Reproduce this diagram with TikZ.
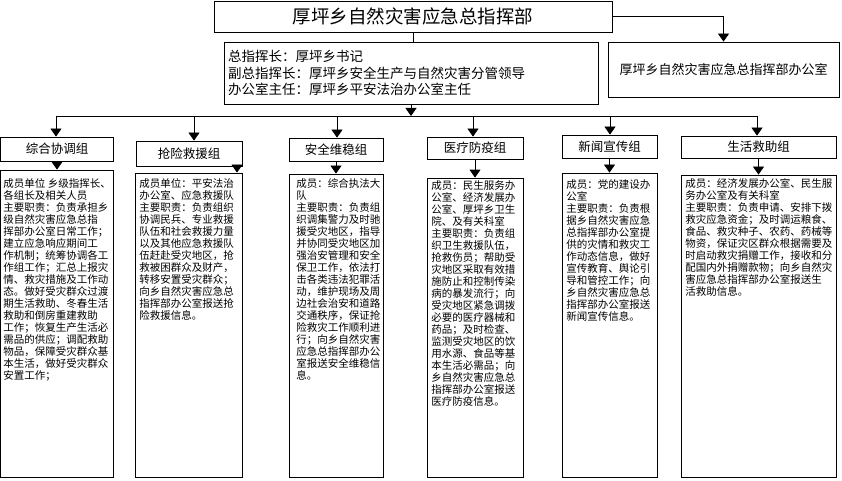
\documentclass[tikz,border=0pt]{standalone}
\usepackage{fontspec}
\setmainfont{Noto Sans CJK SC}
\usetikzlibrary{arrows.meta,positioning}

\begin{document}
\begin{tikzpicture}[x=1pt, y=-1pt, line width=0.8pt,
  box/.style={draw, rectangle, inner sep=0pt},
  grouptitle/.style={box, font=\fontsize{12.5}{14}\selectfont},
  detailtext/.style={anchor=north west, align=left, inner sep=0pt, font=\fontsize{10.5}{12}\selectfont},
  arr/.style={-{Triangle[width=11pt,length=8pt]}}]
\useasboundingbox (0,0) rectangle (842,481);
% Headquarters and leaders
\node[box, minimum width=398pt, minimum height=31pt, font=\fontsize{18.5}{20}\selectfont] (hq) at (413,16.5) {厚坪乡自然灾害应急总指挥部};
\node[box, text width=366pt, inner xsep=4pt, minimum height=62pt, align=left, font=\fontsize{13.5}{16.5}\selectfont] (cmd) at (411,73)
  {总指挥长：厚坪乡书记\\副总指挥长：厚坪乡安全生产与自然灾害分管领导\\办公室主任：厚坪乡平安法治办公室主任};
\node[box, minimum width=231pt, minimum height=55pt, font=\fontsize{13}{15}\selectfont] (office) at (723.5,69.5) {厚坪乡自然灾害应急总指挥部办公室};
\draw (hq.south) -- (hq.south |- cmd.north);
\draw[arr] (hq.east) -| (office.north);
% Working groups
\node[grouptitle, minimum width=113pt, minimum height=24pt] (g1) at (57,149) {综合协调组};
\node[grouptitle, minimum width=106pt, minimum height=25pt] (g2) at (189,153.5) {抢险救援组};
\node[grouptitle, minimum width=94pt, minimum height=23pt] (g3) at (336,149.5) {安全维稳组};
\node[grouptitle, minimum width=96pt, minimum height=22pt] (g4) at (475,148) {医疗防疫组};
\node[grouptitle, minimum width=95pt, minimum height=23pt] (g5) at (609.5,146.5) {新闻宣传组};
\node[grouptitle, minimum width=155pt, minimum height=22pt] (g6) at (758.5,147) {生活救助组};
% Bus line
\coordinate (b1) at (56,116);
\coordinate (b2) at (194,116);
\coordinate (b3) at (337,116);
\coordinate (b4) at (473,116);
\coordinate (b5) at (610,116);
\coordinate (b6) at (757,116);
\draw (b1) -- (b6);
\draw[arr] (cmd.south) -- (cmd.south |- b1);
\foreach \i in {1,...,6} {
  \draw[arr] (b\i) -- (b\i |- g\i.north);
}
% Duty boxes
\node[box, minimum width=112.5pt, minimum height=307pt] (d1) at (56.75,323.5) {};
\node[box, minimum width=107pt, minimum height=304pt] (d2) at (188.5,325) {};
\node[box, minimum width=94pt, minimum height=303pt] (d3) at (336,325.5) {};
\node[box, minimum width=96pt, minimum height=299pt] (d4) at (475,327.5) {};
\node[box, minimum width=95pt, minimum height=304pt] (d5) at (609.5,325) {};
\node[box, minimum width=155pt, minimum height=302pt] (d6) at (758.5,326) {};
\foreach \i in {1,3,4,5,6} {
  \draw[arr] (g\i.south) -- (g\i.south |- d\i.north);
}
\draw[arr] ([xshift=48pt]g2.south) -- ([xshift=48pt]g2.south |- d2.north);
% Duty texts
\node[detailtext] (t1) at (3,178) {成员单位 乡级指挥长、\\各组长及相关人员\\主要职责：负责承担乡\\级自然灾害应急总指\\挥部办公室日常工作；\\建立应急响应期间工\\作机制；统筹协调各工\\作组工作；汇总上报灾\\情、救灾措施及工作动\\态。做好受灾群众过渡\\期生活救助、冬春生活\\救助和倒房重建救助\\工作；恢复生产生活必\\需品的供应；调配救助\\物品，保障受灾群众基\\本生活，做好受灾群众\\安置工作；};
\node[detailtext] (t2) at (139,178) {成员单位：平安法治\\办公室、应急救援队\\主要职责：负责组织\\协调民兵、专业救援\\队伍和社会救援力量\\以及其他应急救援队\\伍赶赴受灾地区，抢\\救被困群众及财产，\\转移安置受灾群众；\\向乡自然灾害应急总\\指挥部办公室报送抢\\险救援信息。};
\node[detailtext] (t3) at (296,178) {成员：综合执法大\\队\\主要职责：负责组\\织调集警力及时驰\\援受灾地区，指导\\并协同受灾地区加\\强治安管理和安全\\保卫工作，依法打\\击各类违法犯罪活\\动，维护现场及周\\边社会治安和道路\\交通秩序，保证抢\\险救灾工作顺利进\\行；向乡自然灾害\\应急总指挥部办公\\室报送安全维稳信\\息。};
\node[detailtext] (t4) at (431,180) {成员：民生服务办\\公室、经济发展办\\公室、厚坪乡卫生\\院、及有关科室\\主要职责：负责组\\织卫生救援队伍，\\抢救伤员；帮助受\\灾地区采取有效措\\施防止和控制传染\\病的暴发流行；向\\受灾地区紧急调拨\\必要的医疗器械和\\药品；及时检查、\\监测受灾地区的饮\\用水源、食品等基\\本生活必需品；向\\乡自然灾害应急总\\指挥部办公室报送\\医疗防疫信息。};
\node[detailtext] (t5) at (566,179) {成员：党的建设办\\公室\\主要职责：负责根\\据乡自然灾害应急\\总指挥部办公室提\\供的灾情和救灾工\\作动态信息，做好\\宣传教育、舆论引\\导和管控工作；向\\乡自然灾害应急总\\指挥部办公室报送\\新闻宣传信息。};
\node[detailtext] (t6) at (685,178) {成员：经济发展办公室、民生服\\务办公室及有关科室\\主要职责：负责申请、安排下拨\\救灾应急资金；及时调运粮食、\\食品、救灾种子、农药、药械等\\物资，保证灾区群众根据需要及\\时启动救灾捐赠工作，接收和分\\配国内外捐赠款物；向乡自然灾\\害应急总指挥部办公室报送生\\活救助信息。};
\end{tikzpicture}
\end{document}
